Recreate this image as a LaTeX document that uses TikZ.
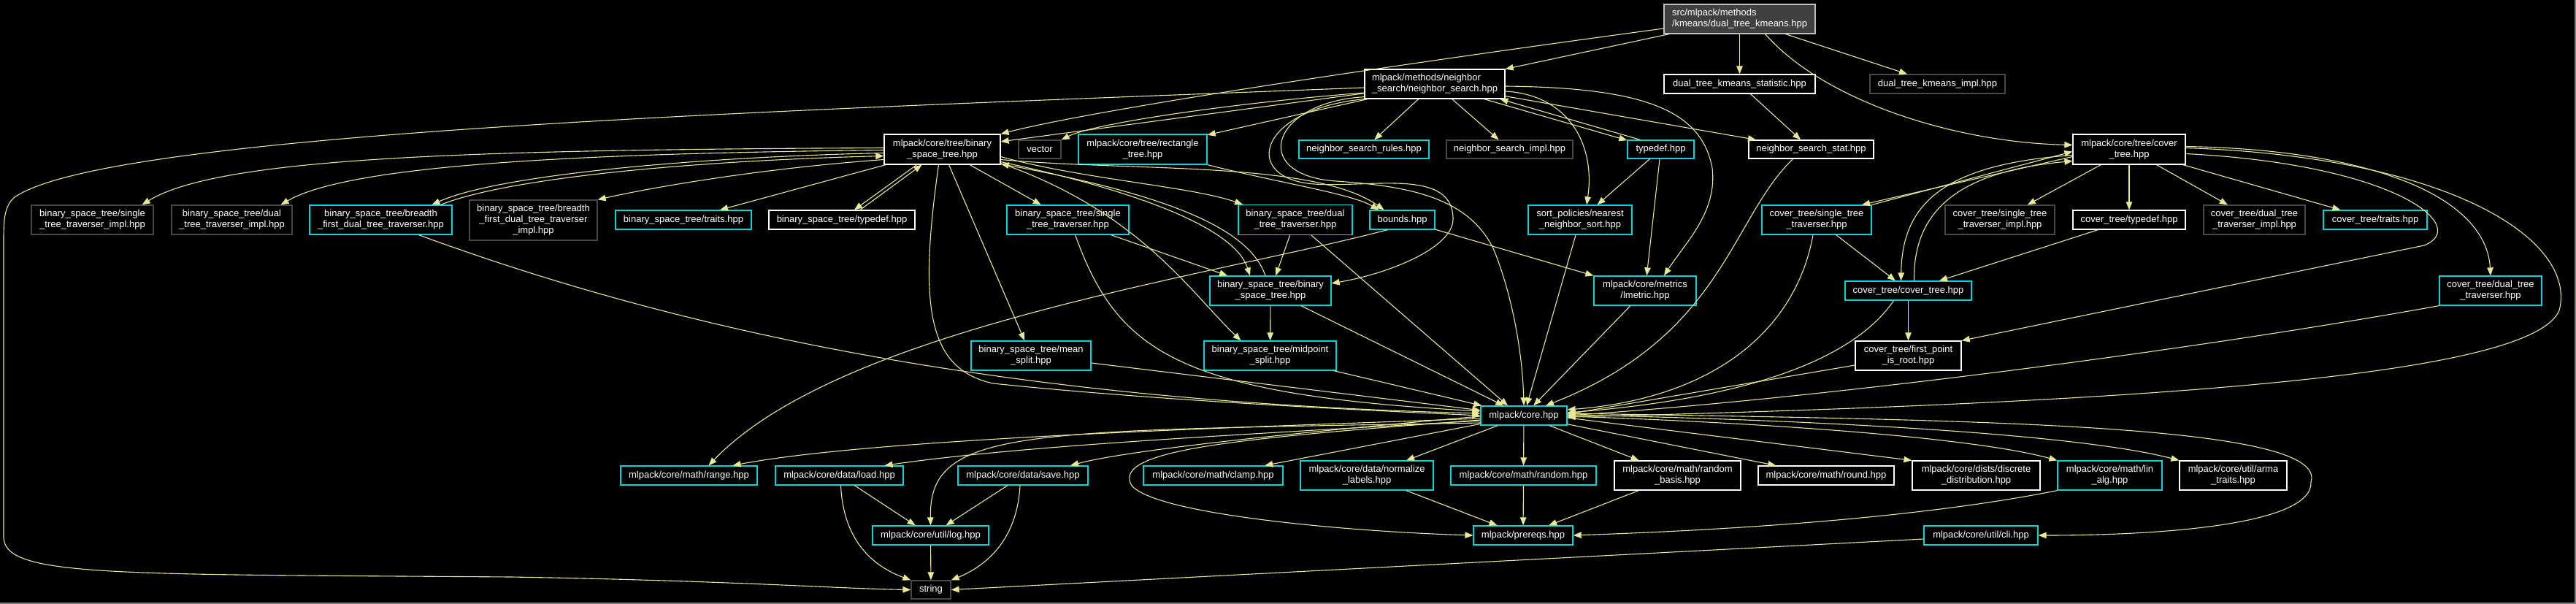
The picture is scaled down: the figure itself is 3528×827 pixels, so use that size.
\documentclass[tikz,border=0pt]{standalone}
\usepackage{fontspec}
\setmainfont{Liberation Sans}
\usetikzlibrary{arrows.meta}
\definecolor{edgec}{RGB}{232,232,150}
\definecolor{cyanc}{RGB}{0,215,215}
\definecolor{grayc}{RGB}{72,72,72}
\definecolor{rootfill}{RGB}{64,64,64}
\definecolor{rootline}{RGB}{191,191,191}
\definecolor{framec}{RGB}{128,128,128}
\newcommand\lblfont{\fontsize{13}{15}\selectfont}
\tikzset{
 nbox/.style={draw, line width=1.25pt, fill=black, text=white, font=\lblfont, inner sep=0pt, align=center},
 cyanbox/.style={nbox, draw=cyanc},
 whitebox/.style={nbox, draw=white},
 graybox/.style={nbox, draw=grayc},
 rootbox/.style={nbox, draw=rootline, fill=rootfill},
 conn/.style={draw=edgec, line width=1.1pt, -{Triangle[length=11pt,width=8.5pt]}},
}
\begin{document}
\begin{tikzpicture}[x=1pt,y=-1pt]
\path[use as bounding box, fill=black] (0,0) rectangle (3528,827);
\draw[framec, line width=1.5pt] (3527,0) -- (3527,826.2) -- (0,826.2);
% ---------- nodes ----------
\node[rootbox, minimum width=207pt, minimum height=40pt, align=left] (root) at (2382.5,26) {src/mlpack/methods\\/kmeans/dual\_tree\_kmeans.hpp};
\node[whitebox, minimum width=192pt, minimum height=40pt, align=left] (ns) at (1965,115) {mlpack/methods/neighbor\\\_search/neighbor\_search.hpp};
\node[whitebox, minimum width=207pt, minimum height=26pt] (dtks) at (2382.5,115) {dual\_tree\_kmeans\_statistic.hpp};
\node[graybox, minimum width=185pt, minimum height=26pt] (dtki) at (2653.5,115) {dual\_tree\_kmeans\_impl.hpp};
\node[whitebox, minimum width=154pt, minimum height=41pt] (ct) at (2916,204.5) {mlpack/core/tree/cover\\\_tree.hpp};
\node[whitebox, minimum width=159pt, minimum height=41pt] (bst) at (1290.5,204.5) {mlpack/core/tree/binary\\\_space\_tree.hpp};
\node[graybox, minimum width=58pt, minimum height=25pt] (vec) at (1424,204.5) {vector};
\node[cyanbox, minimum width=176pt, minimum height=41pt] (rect) at (1565,204.5) {mlpack/core/tree/rectangle\\\_tree.hpp};
\node[cyanbox, minimum width=178pt, minimum height=25pt] (nsr) at (1868,204.5) {neighbor\_search\_rules.hpp};
\node[graybox, minimum width=173pt, minimum height=25pt] (nsi) at (2067.5,204.5) {neighbor\_search\_impl.hpp};
\node[cyanbox, minimum width=91pt, minimum height=25pt] (tdf) at (2274.5,204.5) {typedef.hpp};
\node[whitebox, minimum width=171pt, minimum height=25pt] (nss) at (2480.5,204.5) {neighbor\_search\_stat.hpp};
\node[graybox, minimum width=167pt, minimum height=40pt] (bsti) at (126.5,301) {binary\_space\_tree/single\\\_tree\_traverser\_impl.hpp};
\node[graybox, minimum width=165pt, minimum height=40pt] (bdti) at (317.5,301) {binary\_space\_tree/dual\\\_tree\_traverser\_impl.hpp};
\node[cyanbox, minimum width=195pt, minimum height=40pt] (bbf) at (521.5,301) {binary\_space\_tree/breadth\\\_first\_dual\_tree\_traverser.hpp};
\node[graybox, minimum width=175pt, minimum height=55pt] (bbfi) at (730.5,301.5) {binary\_space\_tree/breadth\\\_first\_dual\_tree\_traverser\\\_impl.hpp};
\node[cyanbox, minimum width=186pt, minimum height=26pt] (btr) at (936,301) {binary\_space\_tree/traits.hpp};
\node[whitebox, minimum width=200pt, minimum height=26pt] (btd) at (1153,301) {binary\_space\_tree/typedef.hpp};
\node[cyanbox, minimum width=167pt, minimum height=40pt] (bstt) at (1462.5,301) {binary\_space\_tree/single\\\_tree\_traverser.hpp};
\node[cyanbox, minimum width=156pt, minimum height=41pt] (bdtt) at (1774,301) {binary\_space\_tree/dual\\\_tree\_traverser.hpp};
\node[cyanbox, minimum width=89pt, minimum height=26pt] (bnd) at (1920.5,301) {bounds.hpp};
\node[cyanbox, minimum width=142pt, minimum height=40pt] (nns) at (2164,301) {sort\_policies/nearest\\\_neighbor\_sort.hpp};
\node[cyanbox, minimum width=150pt, minimum height=40pt] (cstt) at (2488,301) {cover\_tree/single\_tree\\\_traverser.hpp};
\node[graybox, minimum width=150pt, minimum height=40pt] (csti) at (2739,301) {cover\_tree/single\_tree\\\_traverser\_impl.hpp};
\node[whitebox, minimum width=154pt, minimum height=26pt] (ctd) at (2916,301) {cover\_tree/typedef.hpp};
\node[graybox, minimum width=139pt, minimum height=40pt] (cdti) at (3087.5,301) {cover\_tree/dual\_tree\\\_traverser\_impl.hpp};
\node[cyanbox, minimum width=142pt, minimum height=26pt] (ctr) at (3253,301) {cover\_tree/traits.hpp};
\node[cyanbox, minimum width=166pt, minimum height=40pt] (bbst) at (1740,398) {binary\_space\_tree/binary\\\_space\_tree.hpp};
\node[cyanbox, minimum width=140pt, minimum height=40pt] (lme) at (2253,398) {mlpack/core/metrics\\/lmetric.hpp};
\node[cyanbox, minimum width=173pt, minimum height=26pt] (cct) at (2613.5,398) {cover\_tree/cover\_tree.hpp};
\node[cyanbox, minimum width=140pt, minimum height=40pt] (cdtt) at (3411,398) {cover\_tree/dual\_tree\\\_traverser.hpp};
\node[cyanbox, minimum width=164pt, minimum height=40pt] (msp) at (1412,487) {binary\_space\_tree/mean\\\_split.hpp};
\node[cyanbox, minimum width=181pt, minimum height=40pt] (mid) at (1739.5,487) {binary\_space\_tree/midpoint\\\_split.hpp};
\node[whitebox, minimum width=145pt, minimum height=40pt] (fpr) at (2613.5,487) {cover\_tree/first\_point\\\_is\_root.hpp};
\node[cyanbox, minimum width=118pt, minimum height=26pt] (core) at (2087,569) {mlpack/core.hpp};
\node[cyanbox, minimum width=187pt, minimum height=26pt] (rng) at (943.5,651) {mlpack/core/math/range.hpp};
\node[cyanbox, minimum width=175pt, minimum height=26pt] (lod) at (1149.5,651) {mlpack/core/data/load.hpp};
\node[cyanbox, minimum width=178pt, minimum height=26pt] (sav) at (1401,651) {mlpack/core/data/save.hpp};
\node[cyanbox, minimum width=191pt, minimum height=26pt] (clp) at (1661.5,651) {mlpack/core/math/clamp.hpp};
\node[cyanbox, minimum width=182pt, minimum height=40pt] (nrm) at (1872,651) {mlpack/core/data/normalize\\\_labels.hpp};
\node[cyanbox, minimum width=199pt, minimum height=26pt] (rnd) at (2086.5,651) {mlpack/core/math/random.hpp};
\node[whitebox, minimum width=173pt, minimum height=40pt] (rbs) at (2297.5,651) {mlpack/core/math/random\\\_basis.hpp};
\node[whitebox, minimum width=186pt, minimum height=26pt] (rou) at (2501,651) {mlpack/core/math/round.hpp};
\node[whitebox, minimum width=175pt, minimum height=40pt] (dd) at (2706.5,651) {mlpack/core/dists/discrete\\\_distribution.hpp};
\node[cyanbox, minimum width=143pt, minimum height=40pt] (lin) at (2889.5,651) {mlpack/core/math/lin\\\_alg.hpp};
\node[whitebox, minimum width=147pt, minimum height=40pt] (arm) at (3058.5,651) {mlpack/core/util/arma\\\_traits.hpp};
\node[cyanbox, minimum width=159pt, minimum height=26pt] (log) at (1274.5,733) {mlpack/core/util/log.hpp};
\node[cyanbox, minimum width=136pt, minimum height=26pt] (pre) at (2086,733) {mlpack/prereqs.hpp};
\node[cyanbox, minimum width=156pt, minimum height=26pt] (cli) at (2713,733) {mlpack/core/util/cli.hpp};
\node[graybox, minimum width=54pt, minimum height=25pt] (str) at (1275,807.5) {string};
% ---------- edges ----------
% root
\draw[conn] (root) -- (ns);
\draw[conn] (root) -- (dtks);
\draw[conn] (root) -- (dtki);
\draw[conn] ([yshift=-13pt]root.west) .. controls (1900,90) and (1500,150) .. (bst.north east);
\draw[conn] ([xshift=35pt]root.south) .. controls (2500,140) and (2680,195) .. ([yshift=6pt]ct.west);
\draw[conn] (dtks) -- (nss);
% neighbor_search.hpp
\draw[conn] ([yshift=-5pt]ns.west) .. controls (1100,150) and (150,180) .. (20,270) .. controls (6,282) and (5,300) .. (5,330) -- (5,735) .. controls (5,790) and (150,786) .. (700,790) .. controls (1000,795) and (1150,806) .. (str.west);
\draw[conn] (ns) -- (nsr);
\draw[conn] (ns) -- (nsi);
\draw[conn] (ns.-17) -- (tdf.165);
\draw[conn] (tdf.155) -- (ns.-13);
\draw[conn] (ns) -- (nss);
\draw[conn] ([yshift=-10pt]ns.east) .. controls (2150,130) and (2185,200) .. ([xshift=9pt]nns.north);
\draw[conn] ([yshift=-3pt]ns.east) .. controls (2250,120) and (2330,150) .. (2345,230) .. controls (2352,290) and (2310,330) .. ([xshift=26pt]lme.north);
\draw[conn] (ns) -- (bst);
\draw[conn] ([yshift=-12pt]ns.west) .. controls (1700,140) and (1500,168) .. (vec.north east);
\draw[conn] (ns) -- (rect);
\draw[conn] (ns.south west) .. controls (1720,150) and (1700,245) .. (1800,252) .. controls (1880,257) and (1990,230) .. (1990,300) .. controls (1990,340) and (1900,375) .. ([yshift=10pt]bbst.east);
\draw[conn] ([yshift=3pt]ns.south west) .. controls (1740,140) and (1710,240) .. (1830,248) .. controls (1930,255) and (2010,270) .. (2045,340) .. controls (2070,400) and (2085,480) .. (core.north);
% binary_space_tree.hpp
\draw[conn] ([yshift=2pt]bst.west) .. controls (650,205) and (300,215) .. ([xshift=68pt]bsti.north);
\draw[conn] ([yshift=-1pt]bst.west) .. controls (800,210) and (480,225) .. ([xshift=67pt]bdti.north);
\draw[conn] ([yshift=-5pt]bst.west) .. controls (950,215) and (680,240) .. ([xshift=70pt]bbf.north);
\draw[conn] ([xshift=82pt]bbf.north) .. controls (700,242) and (960,220) .. ([yshift=-9pt]bst.west);
\draw[conn] ([yshift=-14pt]bst.west) .. controls (1050,230) and (900,255) .. (bbfi.north east);
\draw[conn] (bst) -- (btr);
\draw[conn] ([xshift=-35pt]bst.south) -- ([xshift=17pt]btd.north);
\draw[conn] ([xshift=25pt]btd.north) -- ([xshift=-28pt]bst.south);
\draw[conn] (bst) -- (bstt);
\draw[conn] ([yshift=-10pt]bst.east) .. controls (1480,245) and (1630,255) .. ([xshift=-72pt]bdtt.north);
\draw[conn] ([yshift=-14pt]bst.east) .. controls (1550,235) and (1800,220) .. ([xshift=-25pt]bnd.north);
\draw[conn] ([yshift=-17pt]bst.east) .. controls (1550,260) and (1690,310) .. ([xshift=-28pt]bbst.north);
\draw[conn] ([xshift=-7pt]bbst.north) .. controls (1710,310) and (1590,265) .. ([yshift=-20pt]bst.east);
\draw[conn] (bst) -- (msp);
\draw[conn] ([yshift=-19pt]bst.east) .. controls (1560,290) and (1630,400) .. ([xshift=-40pt]mid.north);
\draw[conn] ([xshift=-5pt]bst.south) .. controls (1258,420) and (1270,505) .. (1360,525) .. controls (1600,550) and (1900,563) .. (core.west);
\draw[conn] ([xshift=52pt]bbf.south) .. controls (950,460) and (1400,550) .. ([yshift=3pt]core.west);
\draw[conn] (msp) -- (core);
\draw[conn] (mid) -- (core);
\draw[conn] (bbst) -- (mid);
\draw[conn] (bbst) -- (core);
\draw[conn] (bstt) -- (bbst);
\draw[conn] (bdtt) -- (bbst);
\draw[conn] ([xshift=10pt]bstt.south) .. controls (1530,480) and (1610,540) .. ([yshift=6pt]core.west);
\draw[conn] ([xshift=22pt]bdtt.south) -- ([xshift=-22pt]core.north);
\draw[conn] (rect.south east) .. controls (1750,250) and (1850,265) .. ([xshift=-32pt]bnd.north);
\draw[conn] ([xshift=-20pt]bnd.south) .. controls (1650,380) and (1150,450) .. ([xshift=27pt]rng.north);
\draw[conn] (bnd) -- (lme);
% neighbor search helpers
\draw[conn] (tdf) -- (nns);
\draw[conn] (tdf) -- (lme);
\draw[conn] (nns) -- (core);
\draw[conn] (lme) -- (core);
\draw[conn] ([xshift=-25pt]nss.south) .. controls (2370,300) and (2360,460) .. ([xshift=30pt]core.north);
% cover tree
\draw[conn] ([xshift=-5pt]cstt.south) .. controls (2460,450) and (2350,545) .. ([yshift=8pt]core.east);
\draw[conn] (cstt) -- (cct);
\draw[conn] (ctd) -- (cct);
\draw[conn] (ct) -- (csti);
\draw[conn] (ct) -- (ctd);
\draw[conn] (ct) -- (cdti);
\draw[conn] (ct) -- (ctr);
\draw[conn] ([yshift=4pt]ct.east) .. controls (3250,205) and (3405,270) .. (cdtt.north);
\draw[conn] ([yshift=-8pt]ct.west) .. controls (2660,225) and (2605,280) .. ([xshift=-10pt]cct.north);
\draw[conn] ([xshift=8pt]cct.north) .. controls (2620,290) and (2680,235) .. ([yshift=-16pt]ct.west);
\draw[conn] ([yshift=-10pt]ct.west) -- ([xshift=62pt]cstt.north);
\draw[conn] (cstt.north east) -- ([yshift=-3pt]ct.west);
\draw[conn] ([yshift=-6pt]ct.east) .. controls (3280,225) and (3385,310) .. (3320,336) -- (fpr.north east);
\draw[conn] (cct) -- (fpr);
\draw[conn] ([xshift=-20pt]cct.south) .. controls (2540,490) and (2400,545) .. ([yshift=4pt]core.east);
\draw[conn] ([yshift=-13pt]fpr.west) -- ([yshift=2pt]core.east);
\draw[conn] (cdtt.south west) .. controls (3000,480) and (2500,545) .. (core.east);
\draw[conn] ([yshift=2pt]ct.east) .. controls (3360,215) and (3530,330) .. (3505,425) .. controls (3470,510) and (3000,550) .. ([yshift=-2pt]core.east);
% core.hpp
\draw[conn] ([yshift=-4pt]core.west) .. controls (1700,585) and (1200,600) .. ([xshift=60pt]rng.north);
\draw[conn] ([yshift=-7pt]core.west) .. controls (1700,595) and (1400,610) .. ([xshift=62pt]lod.north);
\draw[conn] ([yshift=-10pt]core.west) .. controls (1400,590) and (1272,585) .. (log.north);
\draw[conn] ([yshift=-1pt]core.west) .. controls (1800,590) and (1550,615) .. ([xshift=65pt]sav.north);
\draw[conn] (core) -- (clp);
\draw[conn] (core) -- (nrm);
\draw[conn] (core) -- (rnd);
\draw[conn] (core) -- (rbs);
\draw[conn] (core) -- (rou);
\draw[conn] ([yshift=-3pt]core.east) -- (dd.north west);
\draw[conn] ([yshift=-1pt]core.east) .. controls (2400,578) and (2700,598) .. (lin.north west);
\draw[conn] ([yshift=1pt]core.east) .. controls (2500,575) and (2850,595) .. (arm.north west);
\draw[conn] ([yshift=3pt]core.east) .. controls (2700,575) and (3190,580) .. (3165,660) .. controls (3168,720) and (2950,733) .. (cli.east);
\draw[conn] ([yshift=-6pt]core.west) .. controls (1700,600) and (1520,615) .. (1550,665) .. controls (1585,705) and (1850,728) .. (pre.west);
\draw[conn] (nrm) -- (pre);
\draw[conn] (rnd) -- (pre);
\draw[conn] (rbs) -- (pre);
\draw[conn] (lin.south west) .. controls (2600,715) and (2300,728) .. (pre.east);
\draw[conn] (lod) -- (log);
\draw[conn] (sav) -- (log);
\draw[conn] ([xshift=2pt]lod.south) .. controls (1155,740) and (1195,775) .. (str.north west);
\draw[conn] (log) -- (str);
\draw[conn] ([xshift=-4pt]sav.south) .. controls (1393,740) and (1350,775) .. (str.north east);
\draw[conn] ([yshift=-5pt]cli.west) -- (str.east);
\end{tikzpicture}
\end{document}
